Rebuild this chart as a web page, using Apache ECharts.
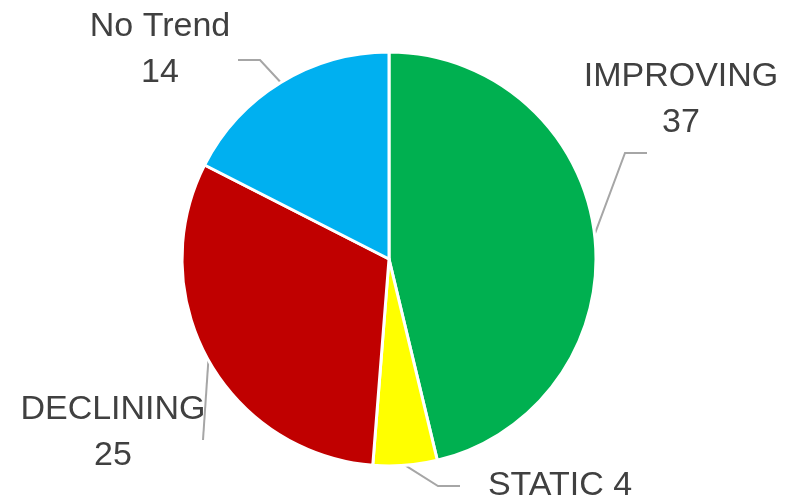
<!DOCTYPE html>
<html>
<head>
<meta charset="utf-8">
<script src="https://cdn.jsdelivr.net/npm/echarts@6/dist/echarts.min.js"></script>
<style>
  html, body { margin: 0; padding: 0; background: #fff; }
  #chart { width: 792px; height: 497px; }
</style>
</head>
<body>
<div id="chart"></div>
<script>
// 数据
const categories = ['IMPROVING', 'STATIC', 'DECLINING', 'No Trend'];
const counts = [37, 4, 25, 14];
const sliceColors = ['#00B050', '#FFFF00', '#C00000', '#00B0F0'];

// 标签摆放位置（文字块中心 x、顶部 y，以及引线拐点）
const labelSpots = [
  { x: 681, y: 54, bend: [[625, 153], [647, 153]] },
  { x: 560, y: 463, bend: [[438, 486], [460, 486]] },
  { x: 113, y: 387, bend: [[203, 440]] },
  { x: 160, y: 4, bend: [[260, 60], [238, 60]] }
];

const chart = echarts.init(document.getElementById('chart'));

const option = {
  animation: false,
  series: [
    {
      type: 'pie',
      center: [389, 259],
      radius: 207,
      startAngle: 90,
      clockwise: true,
      data: categories.map((name, i) => ({
        name: name,
        value: counts[i],
        itemStyle: { color: sliceColors[i] }
      })),
      itemStyle: {
        borderColor: '#fff',
        borderWidth: 3
      },
      label: {
        show: true,
        position: 'outside',
        color: '#404040',
        fontFamily: 'Liberation Sans',
        fontSize: 34,
        lineHeight: 46,
        align: 'center',
        overflow: 'none',
        formatter: function (p) {
          return p.name === 'STATIC' ? p.name + ' ' + p.value : p.name + '\n' + p.value;
        }
      },
      labelLine: {
        show: true,
        lineStyle: { color: '#A6A6A6', width: 2 }
      },
      labelLayout: function (params) {
        const spot = labelSpots[params.dataIndex];
        const start = params.labelLinePoints ? params.labelLinePoints[0] : null;
        const res = {
          x: spot.x,
          y: spot.y,
          align: 'center',
          verticalAlign: 'top'
        };
        if (start) {
          res.labelLinePoints = [start].concat(spot.bend);
        }
        return res;
      }
    }
  ]
};

chart.setOption(option);

window.addEventListener('resize', () => {
  chart.resize();
});
</script>
</body>
</html>
